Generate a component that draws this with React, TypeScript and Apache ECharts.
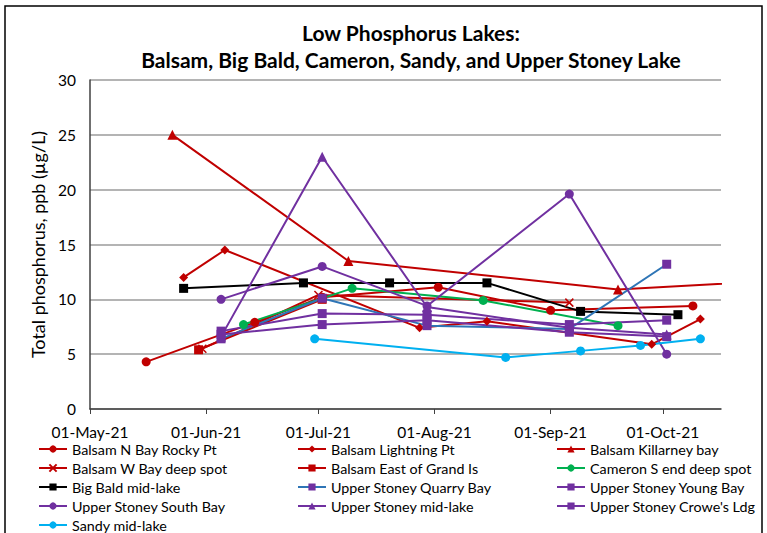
import React, { useEffect, useRef } from "react";
import * as echarts from "echarts";

const TITLE_LINE1 = "Low Phosphorus Lakes:";
const TITLE_LINE2 = "Balsam, Big Bald, Cameron, Sandy, and Upper Stoney Lake";
const Y_NAME = "Total phosphorus, ppb (µg/L)";

const tickDates = ["2021-05-01", "2021-06-01", "2021-07-01", "2021-08-01", "2021-09-01", "2021-10-01"];
const tickLabels = ["01-May-21", "01-Jun-21", "01-Jul-21", "01-Aug-21", "01-Sep-21", "01-Oct-21"];

const rockyDates = ["2021-05-16", "2021-06-14", "2021-07-02", "2021-08-02", "2021-09-01", "2021-10-09"];
const rockyVals = [4.3, 7.9, 10.2, 11.1, 9.0, 9.4];

const lightningDates = ["2021-05-26", "2021-06-06", "2021-07-28", "2021-08-15", "2021-09-28", "2021-10-11"];
const lightningVals = [12.0, 14.5, 7.4, 8.0, 5.9, 8.2];

const killarneyDates = ["2021-05-23", "2021-07-09", "2021-09-19", "2021-11-01"];
const killarneyVals = [25.0, 13.5, 10.9, 11.7];

const wBayDates = ["2021-05-31", "2021-07-01", "2021-09-06"];
const wBayVals = [5.5, 10.4, 9.7];

const grandIsDates = ["2021-05-30", "2021-07-02"];
const grandIsVals = [5.4, 10.0];

const cameronDates = ["2021-06-11", "2021-07-10", "2021-08-14", "2021-09-19"];
const cameronVals = [7.7, 11.0, 9.9, 7.6];

const bigBaldDates = ["2021-05-26", "2021-06-27", "2021-07-20", "2021-08-15", "2021-09-09", "2021-10-05"];
const bigBaldVals = [11.0, 11.5, 11.5, 11.5, 8.9, 8.6];

const stoneyDates = ["2021-06-05", "2021-07-02", "2021-07-30", "2021-09-06", "2021-10-02"];
const quarryVals = [6.4, 10.1, 7.6, 7.3, 13.2];
const youngVals = [7.1, 8.7, 8.6, 7.7, 8.1];
const southVals = [10.0, 13.0, 9.4, 19.6, 5.0];
const midLakeVals = [6.6, 23.0, 9.3, 7.4, 6.8];
const crowesVals = [6.8, 7.7, 8.1, 7.0, 6.6];

const sandyDates = ["2021-06-30", "2021-08-20", "2021-09-09", "2021-09-25", "2021-10-11"];
const sandyVals = [6.4, 4.7, 5.3, 5.8, 6.4];

const AXIS_START = "2021-05-01";
const AXIS_END_DAYS = 168.5;

const RED = "#C00000";
const GREEN = "#00B050";
const PURPLE = "#7030A0";
const BLUE = "#2E75B6";
const CYAN = "#00B0F0";
const CROSS = "path://M0,0L10,10M10,0L0,10";

const DAY = 24 * 3600 * 1000;
function toDay(s: string): number {
  const [y, m, d] = s.split("-").map(Number);
  const [y0, m0, d0] = AXIS_START.split("-").map(Number);
  return Math.round((Date.UTC(y, m - 1, d) - Date.UTC(y0, m0 - 1, d0)) / DAY);
}

function pairs(dates: string[], vals: number[]) {
  return dates.map((d, i) => [toDay(d), vals[i]]);
}

type Def = { name: string; dates: string[]; vals: number[]; color: string; marker?: string; symbol: string; size: number };

const defs: Def[] = [
  { name: "Balsam N Bay Rocky Pt", dates: rockyDates, vals: rockyVals, color: RED, symbol: "circle", size: 9 },
  { name: "Balsam Lightning Pt", dates: lightningDates, vals: lightningVals, color: RED, symbol: "diamond", size: 9 },
  { name: "Balsam Killarney bay", dates: killarneyDates, vals: killarneyVals, color: RED, symbol: "triangle", size: 10 },
  { name: "Balsam W Bay deep spot", dates: wBayDates, vals: wBayVals, color: RED, symbol: CROSS, size: 8 },
  { name: "Balsam East of Grand Is", dates: grandIsDates, vals: grandIsVals, color: RED, symbol: "rect", size: 9 },
  { name: "Cameron S end deep spot", dates: cameronDates, vals: cameronVals, color: GREEN, symbol: "circle", size: 9 },
  { name: "Big Bald mid-lake", dates: bigBaldDates, vals: bigBaldVals, color: "#000000", symbol: "rect", size: 9 },
  { name: "Upper Stoney Quarry Bay", dates: stoneyDates, vals: quarryVals, color: BLUE, marker: PURPLE, symbol: "rect", size: 9 },
  { name: "Upper Stoney Young Bay", dates: stoneyDates, vals: youngVals, color: PURPLE, symbol: "rect", size: 9 },
  { name: "Upper Stoney South Bay", dates: stoneyDates, vals: southVals, color: PURPLE, symbol: "circle", size: 9 },
  { name: "Upper Stoney mid-lake", dates: stoneyDates, vals: midLakeVals, color: PURPLE, symbol: "triangle", size: 10 },
  { name: "Upper Stoney Crowe's Ldg", dates: stoneyDates, vals: crowesVals, color: PURPLE, symbol: "rect", size: 9 },
  { name: "Sandy mid-lake", dates: sandyDates, vals: sandyVals, color: CYAN, symbol: "circle", size: 9 },
];

const FONT = "Lato, 'Liberation Sans', sans-serif";

export default function App() {
  const ref = useRef<HTMLDivElement>(null);
  useEffect(() => {
    if (!ref.current) return;
    const chart = echarts.init(ref.current, undefined, { renderer: "svg" });
    const tickDays = tickDates.map(toDay);
    const series = defs.map((d) => {
      const mk = d.marker || d.color;
      const isCross = d.symbol === CROSS;
      return {
        name: d.name,
        type: "line",
        data: pairs(d.dates, d.vals),
        symbol: d.symbol,
        symbolSize: d.size,
        showSymbol: true,
        lineStyle: { color: d.color, width: 2 },
        itemStyle: isCross
          ? { color: "rgba(0,0,0,0)", borderColor: mk, borderWidth: 1.5 }
          : { color: mk, borderWidth: 0 },
        emphasis: { disabled: true },
        clip: true,
      };
    });
    const col = (idx: number[]) => idx.map((i) => defs[i].name);
    const legendBase = {
      orient: "vertical",
      top: 440,
      height: 100,
      padding: 0,
      itemWidth: 28,
      itemHeight: 9,
      itemGap: 1,
      textStyle: { fontFamily: FONT, fontSize: 14.3, color: "#000", lineHeight: 18 },
      selectedMode: false,
    };
    chart.setOption({
      animation: false,
      textStyle: { fontFamily: FONT },
      title: [
        {
          text: TITLE_LINE1 + "\n" + TITLE_LINE2,
          left: 411,
          top: 19,
          padding: 0,
          textAlign: "center",
          textStyle: { fontFamily: FONT, fontSize: 21, fontWeight: "bold", color: "#000", lineHeight: 27 },
        },
      ],
      graphic: [
        {
          type: "rect",
          shape: { x: 5, y: 6, width: 757, height: 540 },
          style: { fill: "none", stroke: "#000", lineWidth: 1.5 },
          silent: true,
        },
      ],
      legend: [
        { ...legendBase, left: 38, data: col([0, 3, 6, 9, 12]) },
        { ...legendBase, left: 297, data: col([1, 4, 7, 10]) },
        { ...legendBase, left: 556, data: col([2, 5, 8, 11]) },
      ],
      grid: { left: 90, right: 46, top: 80, bottom: 124, containLabel: false },
      xAxis: {
        type: "value",
        min: 0,
        max: AXIS_END_DAYS,
        axisLine: { show: true, lineStyle: { color: "#404040", width: 1.5 } },
        axisTick: { show: true, length: 5, inside: false, lineStyle: { color: "#404040" }, customValues: tickDays },
        axisLabel: {
          customValues: tickDays,
          formatter: (v: number) => {
            const i = tickDays.indexOf(v);
            return i >= 0 ? tickLabels[i] : "";
          },
          fontFamily: FONT,
          fontSize: 15.5,
          color: "#000",
          margin: 15,
        },
        splitLine: { show: false },
      },
      yAxis: {
        type: "value",
        min: 0,
        max: 30,
        interval: 5,
        name: Y_NAME,
        nameLocation: "middle",
        nameGap: 40,
        nameTextStyle: { fontFamily: FONT, fontSize: 18, color: "#000" },
        axisLine: { show: true, lineStyle: { color: "#404040", width: 1.5 } },
        axisTick: { show: false },
        axisLabel: { fontFamily: FONT, fontSize: 15.5, color: "#000", margin: 14 },
        splitLine: { show: true, lineStyle: { color: "#B4B4B4", width: 2 } },
      },
      series,
    } as any);
    return () => chart.dispose();
  }, []);
  return (
    <div
      ref={ref}
      style={{ position: "fixed", left: 0, top: 0, width: 767, height: 533, background: "#fff" }}
    />
  );
}
